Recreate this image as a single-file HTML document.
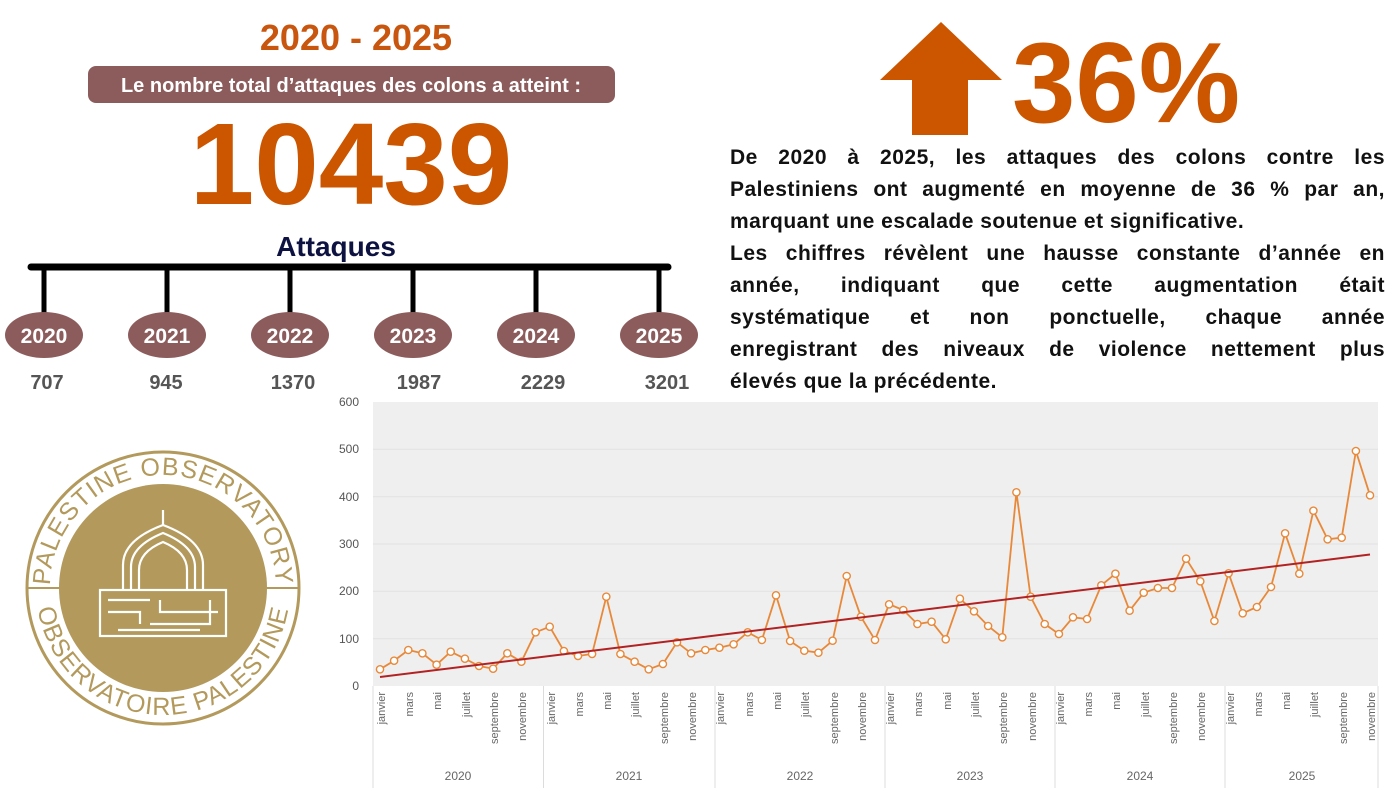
<!DOCTYPE html>
<html><head><meta charset="utf-8">
<style>
html,body{margin:0;padding:0;background:#fff;}
body{width:1400px;height:788px;position:relative;overflow:hidden;font-family:"Liberation Sans",sans-serif;}
#para{position:absolute;left:730px;top:142px;width:655px;font-weight:bold;font-size:21px;line-height:32px;color:#111;letter-spacing:0.5px;}
#para div{text-align:justify;text-align-last:justify;white-space:nowrap;}
#para div.l{text-align-last:left;}
</style></head><body>
<svg width="1400" height="788" style="position:absolute;left:0;top:0" font-family="Liberation Sans, sans-serif">
<defs>
<marker id="m" markerWidth="10" markerHeight="10" refX="5" refY="5" markerUnits="userSpaceOnUse">
<circle cx="5" cy="5" r="3.6" fill="#fff" stroke="#e8893a" stroke-width="1.4"/>
</marker>
<path id="up" d="M 50 588 A 113 113 0 0 1 276 588"/>
<path id="dn" d="M 36 588 A 127 127 0 0 0 290 588"/>
</defs>
<text x="356" y="50" text-anchor="middle" font-size="36" font-weight="bold" fill="#c8560f">2020 - 2025</text>
<rect x="88" y="66" width="527" height="37" rx="8" fill="#8c5b5b"/>
<text x="351" y="92" text-anchor="middle" font-size="20" font-weight="bold" fill="#fff">Le nombre total d’attaques des colons a atteint :</text>
<text x="351" y="204" text-anchor="middle" font-size="116" font-weight="bold" fill="#cc5500">10439</text>
<text x="336" y="256" text-anchor="middle" font-size="28" font-weight="bold" fill="#0d1240">Attaques</text>
<line x1="31" y1="267" x2="668" y2="267" stroke="#000" stroke-width="7" stroke-linecap="round"/>
<g stroke="#000" stroke-width="5">
<line x1="44" y1="267" x2="44" y2="318"/><line x1="167" y1="267" x2="167" y2="318"/><line x1="290" y1="267" x2="290" y2="318"/>
<line x1="413" y1="267" x2="413" y2="318"/><line x1="536" y1="267" x2="536" y2="318"/><line x1="659" y1="267" x2="659" y2="318"/>
</g>
<g fill="#8c5b5b">
<ellipse cx="44" cy="335" rx="39" ry="23"/><ellipse cx="167" cy="335" rx="39" ry="23"/><ellipse cx="290" cy="335" rx="39" ry="23"/>
<ellipse cx="413" cy="335" rx="39" ry="23"/><ellipse cx="536" cy="335" rx="39" ry="23"/><ellipse cx="659" cy="335" rx="39" ry="23"/>
</g>
<g font-size="21" font-weight="bold" fill="#fff" text-anchor="middle">
<text x="44" y="343">2020</text><text x="167" y="343">2021</text><text x="290" y="343">2022</text>
<text x="413" y="343">2023</text><text x="536" y="343">2024</text><text x="659" y="343">2025</text>
</g>
<g font-size="20" font-weight="bold" fill="#555" text-anchor="middle">
<text x="47" y="389">707</text><text x="166" y="389">945</text><text x="293" y="389">1370</text>
<text x="419" y="389">1987</text><text x="543" y="389">2229</text><text x="667" y="389">3201</text>
</g>
<path d="M941 22 L1002 80 L968 80 L968 135 L912 135 L912 80 L880 80 Z" fill="#cc5500"/>
<text x="1012" y="122" font-size="114" font-weight="bold" fill="#cc5500">36%</text>
<circle cx="163" cy="588" r="136" fill="none" stroke="#b39a5c" stroke-width="3"/>
<circle cx="163" cy="588" r="104" fill="#b39a5c"/>
<line x1="27" y1="588" x2="59" y2="588" stroke="#b39a5c" stroke-width="2"/>
<line x1="267" y1="588" x2="299" y2="588" stroke="#b39a5c" stroke-width="2"/>
<text font-size="25" fill="#b39a5c" letter-spacing="1"><textPath href="#up" startOffset="50%" text-anchor="middle">PALESTINE OBSERVATORY</textPath></text>
<text font-size="25" fill="#b39a5c" letter-spacing="1"><textPath href="#dn" startOffset="50%" text-anchor="middle">OBSERVATOIRE PALESTINE</textPath></text>
<g fill="none" stroke="#fff" stroke-width="2.2">
<line x1="163" y1="510" x2="163" y2="525"/>
<path d="M123 590 L123 565 Q123 540 163 525 Q203 540 203 565 L203 590"/>
<path d="M131 590 L131 567 Q131 546 163 533 Q195 546 195 567 L195 590"/>
<path d="M139 590 L139 570 Q139 552 163 542 Q187 552 187 570 L187 590"/>
<rect x="100" y="590" width="126" height="46"/>
<path d="M108 600 H150 M160 600 V612 H218 M108 612 H140 V624 M150 624 H210 V600 M118 630 H200"/>
</g>
<rect x="373" y="402" width="1005" height="284" fill="#efefef"/>
<g stroke="#e2e2e2" stroke-width="1">
<line x1="373" y1="449.3" x2="1378" y2="449.3"/><line x1="373" y1="496.7" x2="1378" y2="496.7"/>
<line x1="373" y1="544" x2="1378" y2="544"/><line x1="373" y1="591.3" x2="1378" y2="591.3"/>
<line x1="373" y1="638.7" x2="1378" y2="638.7"/>
</g>
<g font-size="12" fill="#555" text-anchor="end">
<text x="359" y="406">600</text><text x="359" y="453">500</text><text x="359" y="501">400</text>
<text x="359" y="548">300</text><text x="359" y="595">200</text><text x="359" y="643">100</text><text x="359" y="690">0</text>
</g>
<g stroke="#dcdcdc" stroke-width="1">
<line x1="373" y1="686" x2="373" y2="788"/><line x1="543.5" y1="686" x2="543.5" y2="788"/><line x1="715" y1="686" x2="715" y2="788"/>
<line x1="885" y1="686" x2="885" y2="788"/><line x1="1055" y1="686" x2="1055" y2="788"/><line x1="1225" y1="686" x2="1225" y2="788"/>
<line x1="1378" y1="686" x2="1378" y2="788"/>
</g>
<g transform="translate(380,0)">
<polyline fill="none" stroke="#e8893a" stroke-width="1.8" marker-start="url(#m)" marker-mid="url(#m)" marker-end="url(#m)" points="0,669.3 14.1,660.7 28.3,650 42.4,653.3 56.6,664.7 70.7,651.7 84.9,658.7 99,666 113.1,668.7 127.3,653.3 141.4,661.7 155.6,632.3 169.7,626.7 183.9,651 198,656 212.1,654 226.3,596.7 240.4,654 254.6,661.7 268.7,669.3 282.9,664 297,642.3 311.1,653.3 325.3,650 339.4,647.7 353.6,644.3 367.7,632.3 381.9,640 396,595.3 410.1,641 424.3,650.7 438.4,652.7 452.6,640.7 466.7,576 480.9,616.7 495,640 509.1,604.3 523.3,610 537.4,624 551.6,621.7 565.7,639.3 579.9,598.7 594,611.3 608.1,626 622.3,637.3 636.4,492.3 650.6,596.7 664.7,624 678.9,634 693,617.3 707.1,619 721.3,585.3 735.4,573.7 749.6,610.7 763.7,592.7 777.9,588 792,588 806.1,558.7 820.3,581.3 834.4,621 848.6,573.3 862.7,613.3 876.9,607 891,587 905.1,533.3 919.3,573.7 933.4,510.7 947.6,539.3 961.7,537.7 975.9,451 990,495.3"/>
<line x1="0" y1="677" x2="990" y2="554.5" stroke="#b22222" stroke-width="2"/>
</g>
<g font-size="12" fill="#666" text-anchor="middle">
<text x="458" y="780">2020</text><text x="629" y="780">2021</text><text x="800" y="780">2022</text>
<text x="970" y="780">2023</text><text x="1140" y="780">2024</text><text x="1302" y="780">2025</text>
</g>
<g font-size="11" fill="#666" text-anchor="end">
<text transform="translate(385,692) rotate(-90)">janvier</text><text transform="translate(413,692) rotate(-90)">mars</text><text transform="translate(441,692) rotate(-90)">mai</text><text transform="translate(470,692) rotate(-90)">juillet</text><text transform="translate(498,692) rotate(-90)">septembre</text><text transform="translate(526,692) rotate(-90)">novembre</text>
<text transform="translate(555,692) rotate(-90)">janvier</text><text transform="translate(583,692) rotate(-90)">mars</text><text transform="translate(611,692) rotate(-90)">mai</text><text transform="translate(639,692) rotate(-90)">juillet</text><text transform="translate(668,692) rotate(-90)">septembre</text><text transform="translate(696,692) rotate(-90)">novembre</text>
<text transform="translate(724,692) rotate(-90)">janvier</text><text transform="translate(753,692) rotate(-90)">mars</text><text transform="translate(781,692) rotate(-90)">mai</text><text transform="translate(809,692) rotate(-90)">juillet</text><text transform="translate(838,692) rotate(-90)">septembre</text><text transform="translate(866,692) rotate(-90)">novembre</text>
<text transform="translate(894,692) rotate(-90)">janvier</text><text transform="translate(922,692) rotate(-90)">mars</text><text transform="translate(951,692) rotate(-90)">mai</text><text transform="translate(979,692) rotate(-90)">juillet</text><text transform="translate(1007,692) rotate(-90)">septembre</text><text transform="translate(1036,692) rotate(-90)">novembre</text>
<text transform="translate(1064,692) rotate(-90)">janvier</text><text transform="translate(1092,692) rotate(-90)">mars</text><text transform="translate(1120,692) rotate(-90)">mai</text><text transform="translate(1149,692) rotate(-90)">juillet</text><text transform="translate(1177,692) rotate(-90)">septembre</text><text transform="translate(1205,692) rotate(-90)">novembre</text>
<text transform="translate(1234,692) rotate(-90)">janvier</text><text transform="translate(1262,692) rotate(-90)">mars</text><text transform="translate(1290,692) rotate(-90)">mai</text><text transform="translate(1318,692) rotate(-90)">juillet</text><text transform="translate(1347,692) rotate(-90)">septembre</text><text transform="translate(1375,692) rotate(-90)">novembre</text>
</g>
</svg>
<div id="para">
<div>De 2020 à 2025, les attaques des colons contre les</div>
<div>Palestiniens ont augmenté en moyenne de 36 % par an,</div>
<div class="l">marquant une escalade soutenue et significative.</div>
<div>Les chiffres révèlent une hausse constante d’année en</div>
<div>année, indiquant que cette augmentation était</div>
<div>systématique et non ponctuelle, chaque année</div>
<div>enregistrant des niveaux de violence nettement plus</div>
<div class="l">élevés que la précédente.</div>
</div>
</body></html>
